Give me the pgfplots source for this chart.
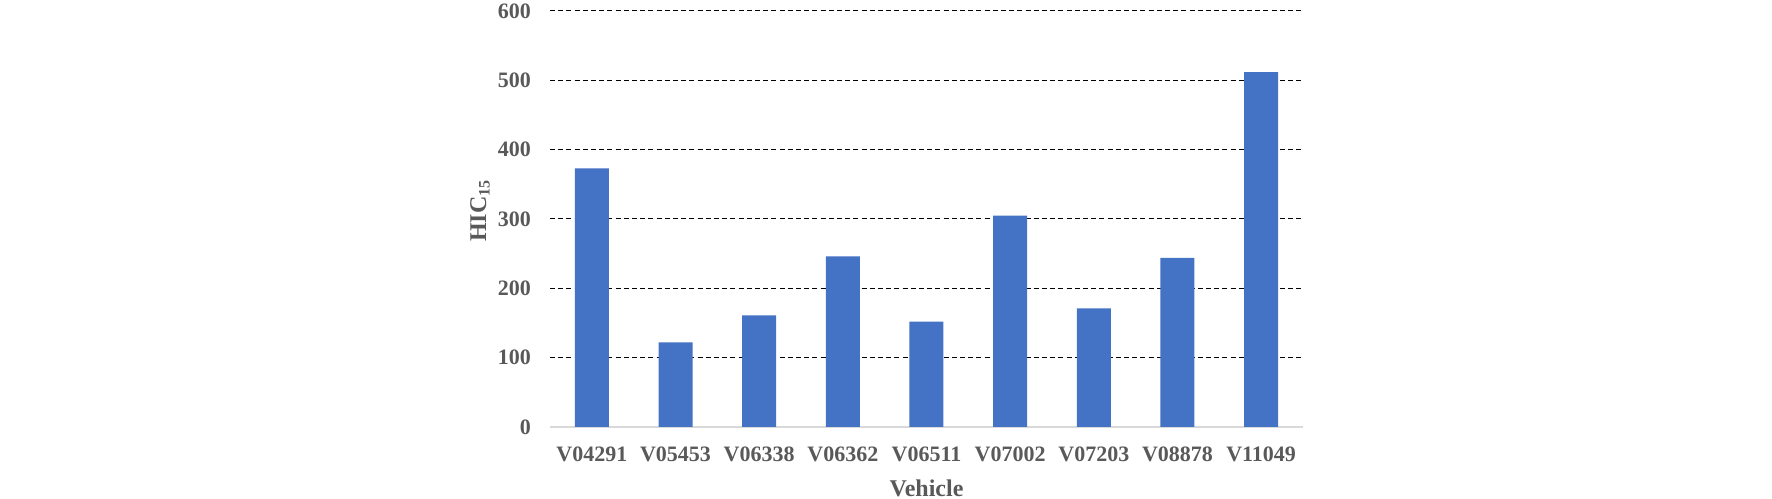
\documentclass[border=0pt]{standalone}
\usepackage{fontspec}
\setmainfont{Liberation Serif}
\usepackage{pgfplots}
\pgfplotsset{compat=1.18}
\definecolor{barblue}{HTML}{4472C4}
\definecolor{txtgray}{HTML}{595959}
\definecolor{axgray}{HTML}{D9D9D9}
\begin{document}
\begin{tikzpicture}
\path[use as bounding box] (0,0) rectangle (886pt,249pt);
\begin{axis}[
  at={(275pt,35.5pt)}, anchor=south west,
  scale only axis, width=376.5pt, height=208pt,
  xmin=-0.5, xmax=8.5, ymin=0, ymax=600,
  ytick={0,100,...,600},
  xtick={0,...,8},
  xticklabels={V04291,V05453,V06338,V06362,V06511,V07002,V07203,V08878,V11049},
  axis x line*=bottom, axis y line*=left,
  x axis line style={axgray, line width=0.8pt, -},
  y axis line style={draw=none},
  major tick length=0pt,
  ymajorgrids, grid style={black, line width=0.5pt, dash pattern=on 2.5pt off 1.6pt},
  /pgf/number format/assume math mode=true,
  ticklabel style={font=\fontsize{11}{13}\selectfont\bfseries, text=txtgray},
  xticklabel style={yshift=-6.5pt},
  yticklabel style={xshift=-6pt},
  every axis y label/.style={at={(axis description cs:-0.093,0.52)}, anchor=center, rotate=90},
  every axis x label/.style={at={(axis description cs:0.5,-0.147)}, anchor=center},
  label style={font=\fontsize{12}{14}\selectfont\bfseries, text=txtgray},
  ylabel={HIC\textsubscript{15}},
  xlabel={Vehicle},
]
\addplot[ybar, bar width=17pt, fill=barblue, draw=none] coordinates {
  (0,373) (1,122) (2,161) (3,246) (4,152) (5,305) (6,171) (7,244) (8,512)
};
\end{axis}
\end{tikzpicture}
\end{document}
